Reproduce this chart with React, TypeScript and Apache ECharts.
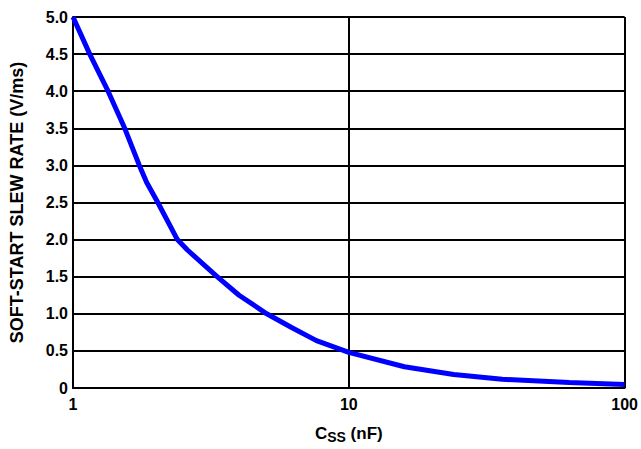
import React, { useEffect, useRef } from "react";
import * as echarts from "echarts";

const capacitanceNF = [1, 1.15, 1.34, 1.54, 1.74, 1.85, 2.03, 2.39, 2.6, 3.33, 4.0, 5.04, 6.2, 7.63, 10, 15.9, 24, 36, 63, 100];
const slewRate = [5.0, 4.5, 4.0, 3.5, 3.0, 2.77, 2.5, 2.0, 1.86, 1.5, 1.25, 1.0, 0.815, 0.638, 0.48, 0.286, 0.182, 0.118, 0.073, 0.046];

const FONT = "'Liberation Sans', Arial, sans-serif";

export default function App() {
  const ref = useRef<HTMLDivElement>(null);
  useEffect(() => {
    if (!ref.current) return;
    const chart = echarts.init(ref.current, null, { renderer: "svg" });
    chart.setOption({
      animation: false,
      backgroundColor: "#ffffff",
      grid: { left: 73, right: 12, top: 17, bottom: 56, containLabel: false },
      xAxis: {
        type: "log",
        logBase: 10,
        min: 1,
        max: 100,
        name: "{c|C}{s|SS}{c| (nF)}",
        nameLocation: "middle",
        nameGap: 37,
        nameTextStyle: {
          rich: {
            c: { fontFamily: FONT, fontWeight: "bold", fontSize: 17, color: "#000", verticalAlign: "top", lineHeight: 19 },
            s: { fontFamily: FONT, fontWeight: "bold", fontSize: 14, color: "#000", verticalAlign: "bottom", lineHeight: 17, padding: [7, 0, 0, 0] },
          },
        },
        axisLine: { show: true, lineStyle: { color: "#000", width: 2 } },
        axisTick: { show: false },
        minorTick: { show: false },
        splitLine: { show: true, lineStyle: { color: "#000", width: 2 } },
        axisLabel: {
          color: "#000",
          fontFamily: FONT,
          fontWeight: "bold",
          fontSize: 16,
          margin: 8,
          formatter: (v: number) => String(Math.round(v)),
        },
      },
      yAxis: {
        type: "value",
        min: 0,
        max: 5,
        interval: 0.5,
        name: "SOFT-START SLEW RATE (V/ms)",
        nameLocation: "middle",
        nameGap: 47,
        nameTextStyle: { color: "#000", fontFamily: FONT, fontWeight: "bold", fontSize: 18 },
        axisLine: { show: true, lineStyle: { color: "#000", width: 2 } },
        axisTick: { show: false },
        splitLine: { show: true, lineStyle: { color: "#000", width: 2 } },
        axisLabel: {
          color: "#000",
          fontFamily: FONT,
          fontWeight: "bold",
          fontSize: 16,
          margin: 5,
          formatter: (v: number) => (v === 0 ? "0" : v.toFixed(1)),
        },
      },
      series: [
        {
          type: "line",
          data: capacitanceNF.map((c, i) => [c, slewRate[i]]),
          showSymbol: false,
          smooth: false,
          lineStyle: { color: "#0000ff", width: 5 },
          z: 5,
        },
      ],
    });
    return () => chart.dispose();
  }, []);
  return <div ref={ref} style={{ position: "fixed", left: 0, top: 0, width: 641, height: 449 }} />;
}
